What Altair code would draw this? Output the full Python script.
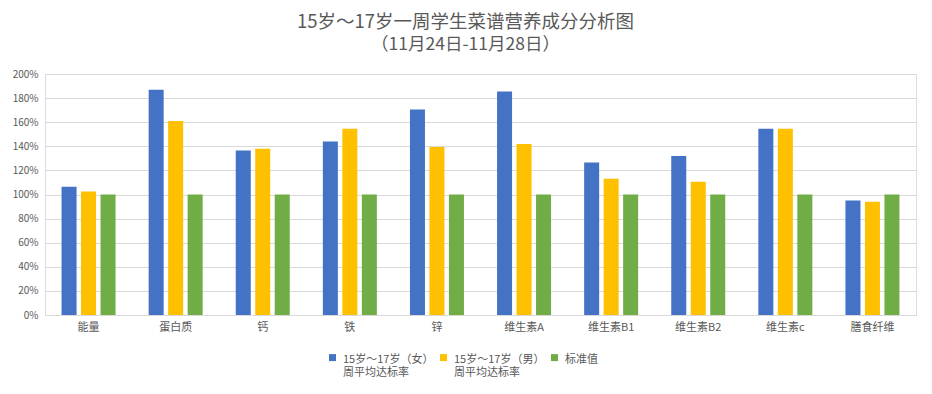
import altair as alt
import pandas as pd

categories = ["能量", "蛋白质", "钙", "铁", "锌", "维生素A", "维生素B1", "维生素B2", "维生素c", "膳食纤维"]
series = ["15岁～17岁（女）\n周平均达标率", "15岁～17岁（男）\n周平均达标率", "标准值"]
female = [106.5, 187, 136.5, 144, 170.5, 185.5, 126.5, 132, 154.5, 95]
male = [102.5, 161, 138, 154.5, 139.5, 142, 113, 110.5, 154.5, 94]
standard = [100, 100, 100, 100, 100, 100, 100, 100, 100, 100]
colors = ["#4472C4", "#FFC000", "#70AD47"]

rows = []
for s, vals in zip(series, [female, male, standard]):
    for c, v in zip(categories, vals):
        rows.append({"营养素": c, "系列": s, "达标率": v})
df = pd.DataFrame(rows)

FONT = "Noto Sans CJK SC"
GREY = "#595959"

chart = alt.Chart(df).mark_bar().encode(
    x=alt.X("营养素:N", sort=categories, title=None,
            scale=alt.Scale(paddingInner=0.38, paddingOuter=0.19),
            axis=alt.Axis(labelAngle=0, ticks=False, domainColor="#d9d9d9",
                          labelFontSize=11, labelColor=GREY, labelPadding=6, labelFont=FONT)),
    xOffset=alt.XOffset("系列:N", sort=series,
                        scale=alt.Scale(paddingInner=0.23, paddingOuter=0)),
    y=alt.Y("达标率:Q", title=None,
            scale=alt.Scale(domain=[0, 200], nice=False),
            axis=alt.Axis(values=list(range(0, 201, 20)), labelExpr="datum.value + '%'",
                          ticks=False, domain=False, gridColor="#d9d9d9", labelFontSize=10,
                          labelColor=GREY, labelPadding=7, labelFont=FONT)),
    color=alt.Color("系列:N", sort=series, scale=alt.Scale(domain=series, range=colors),
                    legend=alt.Legend(title=None, orient="none", legendX=282, legendY=274,
                                      direction="horizontal", columns=3,
                                      symbolType="M-1,0.1H1V2.1H-1Z",
                                      symbolSize=49, symbolStrokeWidth=0, labelOffset=5,
                                      columnPadding=4, labelFontSize=11, labelColor=GREY,
                                      labelFont=FONT, labelBaseline="top", labelLimit=200,
                                      labelExpr="indexof(datum.label, '\\n') >= 0 ? split(datum.label, '\\n') : [datum.label, ' ']")),
).properties(
    width=871, height=241,
    title=alt.Title(text="15岁～17岁一周学生菜谱营养成分分析图",
                    subtitle="（11月24日-11月28日）",
                    fontSize=18.5, subtitleFontSize=17.5, color=GREY, subtitleColor=GREY,
                    font=FONT, subtitleFont=FONT, fontWeight="normal",
                    anchor="middle", offset=16, subtitlePadding=4, dx=-15),
    autosize=alt.AutoSizeParams(type="none"),
    padding={"left": 37, "top": 66, "right": 8, "bottom": 70},
).configure_view(stroke=None).configure(background="white")

chart.save("out.html", embed_options={"renderer": "svg", "actions": False})
